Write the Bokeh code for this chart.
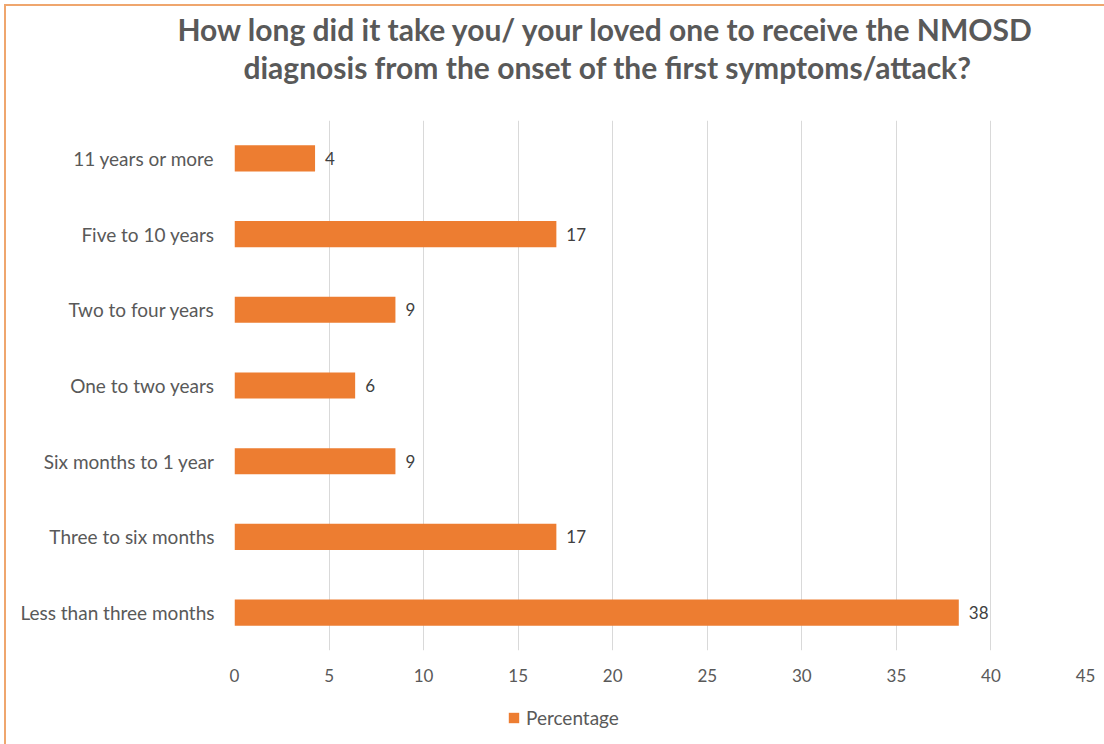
from bokeh.plotting import figure
from bokeh.layouts import column
from bokeh.models import (ColumnDataSource, LabelSet, Legend, LegendItem,
                          FixedTicker, Title)
from bokeh.core.properties import value
from bokeh.embed import file_html
from bokeh.resources import INLINE

# Survey answers (n = 47), bottom to top
categories = ["Less than three months", "Three to six months", "Six months to 1 year",
              "One to two years", "Two to four years", "Five to 10 years", "11 years or more"]
percentages = [38.30, 17.02, 8.51, 6.38, 8.51, 17.02, 4.26]
x_ticks = [0, 5, 10, 15, 20, 25, 30, 35, 40, 45]

title_line1 = "How long did it take you/ your loved one to receive the NMOSD"
title_line2 = "diagnosis from the onset of the first symptoms/attack?"
series_name = "Percentage"

BAR = "#ED7D31"
GREY = "#595959"
FONT = "Lato"
FRAME_W = 851

src = ColumnDataSource(dict(
    cat=categories,
    pct=percentages,
    lbl=[f"{v:.0f}" for v in percentages],
))

# ---- main bar chart ------------------------------------------------------
p = figure(
    frame_width=FRAME_W, frame_height=530,
    y_range=categories, x_range=(0, 45),
    output_backend="svg", toolbar_location=None,
    min_border_left=228, min_border_right=19,
    min_border_top=114, min_border_bottom=50,
)
p.background_fill_color = "white"
p.border_fill_color = "white"
p.outline_line_color = None

bar_kw = dict(y="cat", right="pct", left=0, height=0.345, source=src,
              fill_color=BAR, line_color=None)
p.hbar(**bar_kw)

p.add_layout(LabelSet(x="pct", y="cat", text="lbl", source=src, x_offset=10,
                      text_baseline="middle", text_font=value(FONT),
                      text_font_size="17px", text_color="#404040"))

p.xaxis.ticker = FixedTicker(ticks=x_ticks)
p.xaxis.axis_line_color = None
p.xaxis.major_tick_line_color = None
p.xaxis.minor_tick_line_color = None
p.xaxis.major_tick_out = 0
p.xaxis.major_label_text_font = FONT
p.xaxis.major_label_text_font_size = "17px"
p.xaxis.major_label_text_color = GREY
p.xaxis.major_label_standoff = 18

p.yaxis.axis_line_color = None
p.yaxis.major_tick_line_color = None
p.yaxis.minor_tick_line_color = None
p.yaxis.major_tick_out = 0
p.yaxis.major_label_text_font = FONT
p.yaxis.major_label_text_font_size = "19px"
p.yaxis.major_label_text_color = GREY
p.yaxis.major_label_standoff = 20

p.ygrid.grid_line_color = None
p.xgrid.grid_line_color = "#D9D9D9"
p.xgrid.grid_line_width = 1

# two-line heading; panels stack upward from the frame
title_kw = dict(text_font=FONT, text_font_size="30px", text_font_style="bold",
                text_color=GREY, align="right", standoff=0)
p.add_layout(Title(text=" ", text_font_size="2px", standoff=32), "above")
p.add_layout(Title(text=title_line2, offset=114, **title_kw), "above")
p.add_layout(Title(text=title_line1, offset=51, **title_kw), "above")

# ---- legend strip under the chart ----------------------------------------
foot = figure(
    frame_width=FRAME_W, frame_height=44,
    y_range=categories, x_range=(0, 45),
    x_axis_location=None, y_axis_location=None,
    output_backend="svg", toolbar_location=None,
    min_border_left=228, min_border_right=19,
    min_border_top=0, min_border_bottom=0,
)
foot.grid.visible = False
foot.outline_line_color = None
foot.background_fill_color = "white"
foot.border_fill_color = "white"
# same series, kept hidden here; it only supplies the legend swatch
swatch = foot.hbar(visible=False, **bar_kw)

legend = Legend(items=[LegendItem(label=series_name, renderers=[swatch])],
                location=(273, 15), orientation="horizontal",
                glyph_width=13, glyph_height=13, label_text_font=FONT,
                label_text_font_size="19px", label_text_color=GREY,
                label_standoff=6, border_line_color=None,
                background_fill_alpha=0, inactive_fill_alpha=0,
                padding=0, margin=0)
foot.add_layout(legend, "center")

page = column(p, foot, spacing=0)
page.styles = {"margin": "4px 0 0 4px",
               "border-top": "2px solid #EFA66E",
               "border-left": "2px solid #EFA66E"}

open("out.html", "w").write(file_html(page, INLINE))
